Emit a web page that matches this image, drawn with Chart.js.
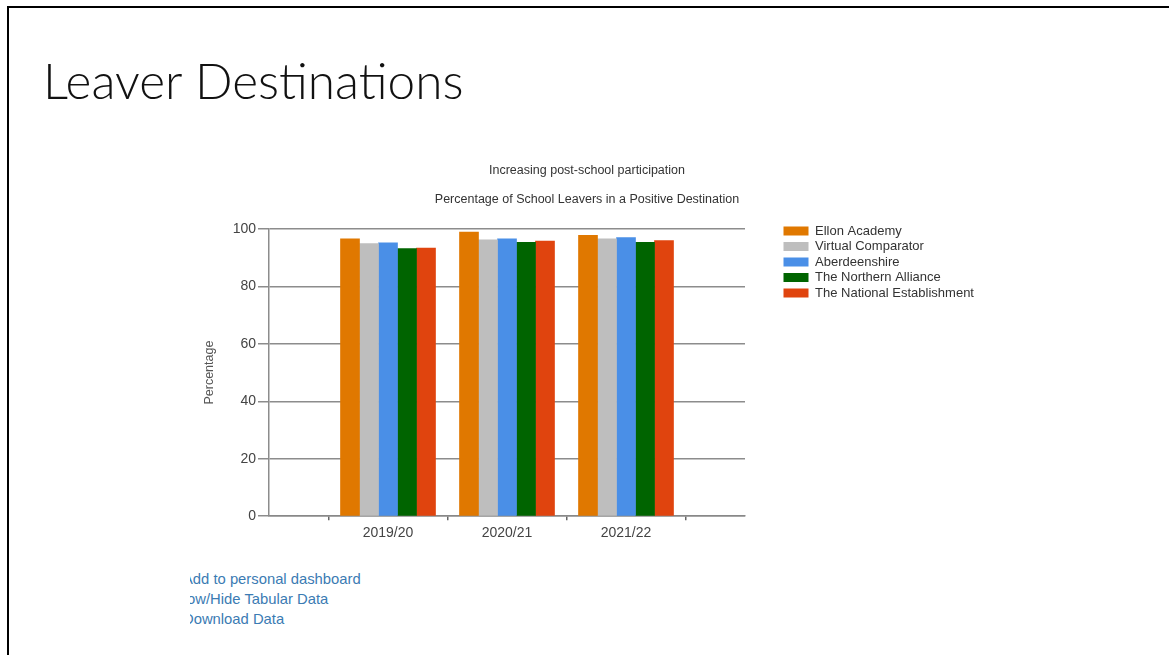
<!DOCTYPE html>
<html>
<head>
<meta charset="utf-8">
<script src="https://cdn.jsdelivr.net/npm/chart.js"></script>
<style>
    body {
        margin: 0;
        width: 1169px;
        height: 655px;
        overflow: hidden;
        position: relative;
        background: #fff;
        font-family: 'Liberation Sans', Arial, sans-serif;
    }
    .frame {
        position: absolute;
        left: 7px;
        top: 6px;
        width: 1200px;
        height: 700px;
        border-top: 2px solid #000;
        border-left: 2px solid #000;
    }
    h1 {
        position: absolute;
        left: 43px;
        top: 56px;
        margin: 0;
        font: 300 49.5px Lato, 'Open Sans', sans-serif;
        line-height: 1;
        color: #111;
        white-space: nowrap;
    }
    .chart-box {
        position: absolute;
        left: 190px;
        top: 150px;
        width: 794px;
        height: 397px;
    }
    .links {
        position: absolute;
        left: 190px;
        top: 569px;
        width: 260px;
        height: 62px;
        overflow: hidden;
    }
    .links div {
        position: relative;
        font-size: 14.8px;
        line-height: 20px;
        color: #3b7bb3;
        white-space: nowrap;
    }
</style>
</head>
<body>
    <div class="frame"></div>
    <h1>Leaver Destinations</h1>

    <div class="chart-box">
        <canvas id="destinationsChart"></canvas>
    </div>

    <div class="links">
        <div style="left: -7px;">Add to personal dashboard</div>
        <div style="left: -21px;">Show/Hide Tabular Data</div>
        <div style="left: -7px;">Download Data</div>
    </div>

    <script>
        // Leaver years on the x axis
        const categories = ['2019/20', '2020/21', '2021/22'];

        // % of leavers in a positive destination, one array per comparator
        const ellonAcademy = [96.6, 98.9, 97.8];
        const virtualComparator = [94.9, 96.2, 96.6];
        const aberdeenshire = [95.2, 96.6, 97.0];
        const northernAlliance = [93.2, 95.4, 95.4];
        const nationalEstablishment = [93.4, 95.8, 96.0];

        const seriesNames = ['Ellon Academy', 'Virtual Comparator', 'Aberdeenshire', 'The Northern Alliance', 'The National Establishment'];
        const seriesValues = [ellonAcademy, virtualComparator, aberdeenshire, northernAlliance, nationalEstablishment];
        const seriesColours = ['#e07800', '#bebebe', '#4a8fe7', '#006400', '#e0440e'];

        // y-axis tick labels
        const yTicks = [0, 20, 40, 60, 80, 100];

        Chart.defaults.font.family = "'Liberation Sans', Arial, sans-serif";

        const datasets = seriesNames.map((name, s) => ({
            label: name,
            data: seriesValues[s].map((v, i) => ({ x: i, y: v })),
            backgroundColor: seriesColours[s],
            borderWidth: 0,
            barThickness: 19
        }));

        // x ticks: labels on the categories, small marks half way between them
        const xTickValues = categories.flatMap((c, i) => [i - 0.5, i]).concat(categories.length - 0.5);
        const isCategoryTick = ctx => ctx.tick && Number.isInteger(ctx.tick.value);

        // the legend is laid out in the chart area, then moved into the
        // space kept free by the 'legendSpace' axis, level with the top gridline
        const legendBeside = {
            id: 'legendBeside',
            afterLayout(chart) {
                const lg = chart.legend;
                const area = chart.chartArea;
                const w = lg.width, h = lg.height;
                lg.left = area.right + 36;
                lg.top = area.top - 7;
                lg.right = lg.left + w;
                lg.bottom = lg.top + h;
            }
        };

        new Chart(document.getElementById('destinationsChart'), {
            type: 'bar',
            data: { datasets: datasets },
            plugins: [legendBeside],
            options: {
                responsive: true,
                maintainAspectRatio: false,
                animation: false,
                layout: { padding: 0 },
                scales: {
                    x: {
                        type: 'linear',
                        offset: false,
                        min: -1,
                        max: categories.length,
                        afterBuildTicks(axis) {
                            axis.ticks = xTickValues.map(v => ({ value: v }));
                        },
                        ticks: {
                            autoSkip: false,
                            maxRotation: 0,
                            padding: 5,
                            color: '#444',
                            font: { size: 14 },
                            callback: v => Number.isInteger(v) ? categories[v] : ''
                        },
                        grid: {
                            offset: false,
                            drawOnChartArea: false,
                            tickLength: 4,
                            lineWidth: 1.5,
                            color: '#666',
                            tickColor: ctx => isCategoryTick(ctx) ? 'rgba(0,0,0,0)' : '#666'
                        },
                        border: { color: '#888', width: 1.5 }
                    },
                    y: {
                        min: 0,
                        max: 100,
                        afterBuildTicks(axis) {
                            axis.ticks = yTicks.map(v => ({ value: v }));
                        },
                        ticks: {
                            padding: 2,
                            color: '#444',
                            font: { size: 14 }
                        },
                        grid: {
                            color: '#8c8c8c',
                            lineWidth: 1.5,
                            tickLength: 11
                        },
                        border: { color: '#8c8c8c', width: 1.5 },
                        title: {
                            display: true,
                            text: 'Percentage',
                            color: '#555',
                            font: { size: 12.5 },
                            padding: { top: 12, bottom: 0 }
                        },
                        afterFit(axis) {
                            axis.width = 79;
                        }
                    },
                    // empty axis that reserves the column the legend sits in
                    legendSpace: {
                        type: 'linear',
                        position: 'right',
                        grid: { display: false },
                        ticks: { display: false },
                        border: { display: false },
                        afterFit(axis) {
                            axis.width = 239;
                        }
                    }
                },
                plugins: {
                    title: {
                        display: true,
                        text: 'Increasing post-school participation',
                        color: '#333',
                        font: { size: 12.5, weight: 'normal' },
                        padding: { top: 13, bottom: 8 }
                    },
                    subtitle: {
                        display: true,
                        text: 'Percentage of School Leavers in a Positive Destination',
                        color: '#333',
                        font: { size: 12.5 },
                        padding: { top: 6, bottom: 22 }
                    },
                    legend: {
                        position: 'chartArea',
                        align: 'start',
                        labels: {
                            boxWidth: 25,
                            boxHeight: 9,
                            padding: 2.5,
                            color: '#333',
                            font: { size: 13 }
                        }
                    },
                    tooltip: { enabled: false }
                }
            }
        });
    </script>
</body>
</html>
